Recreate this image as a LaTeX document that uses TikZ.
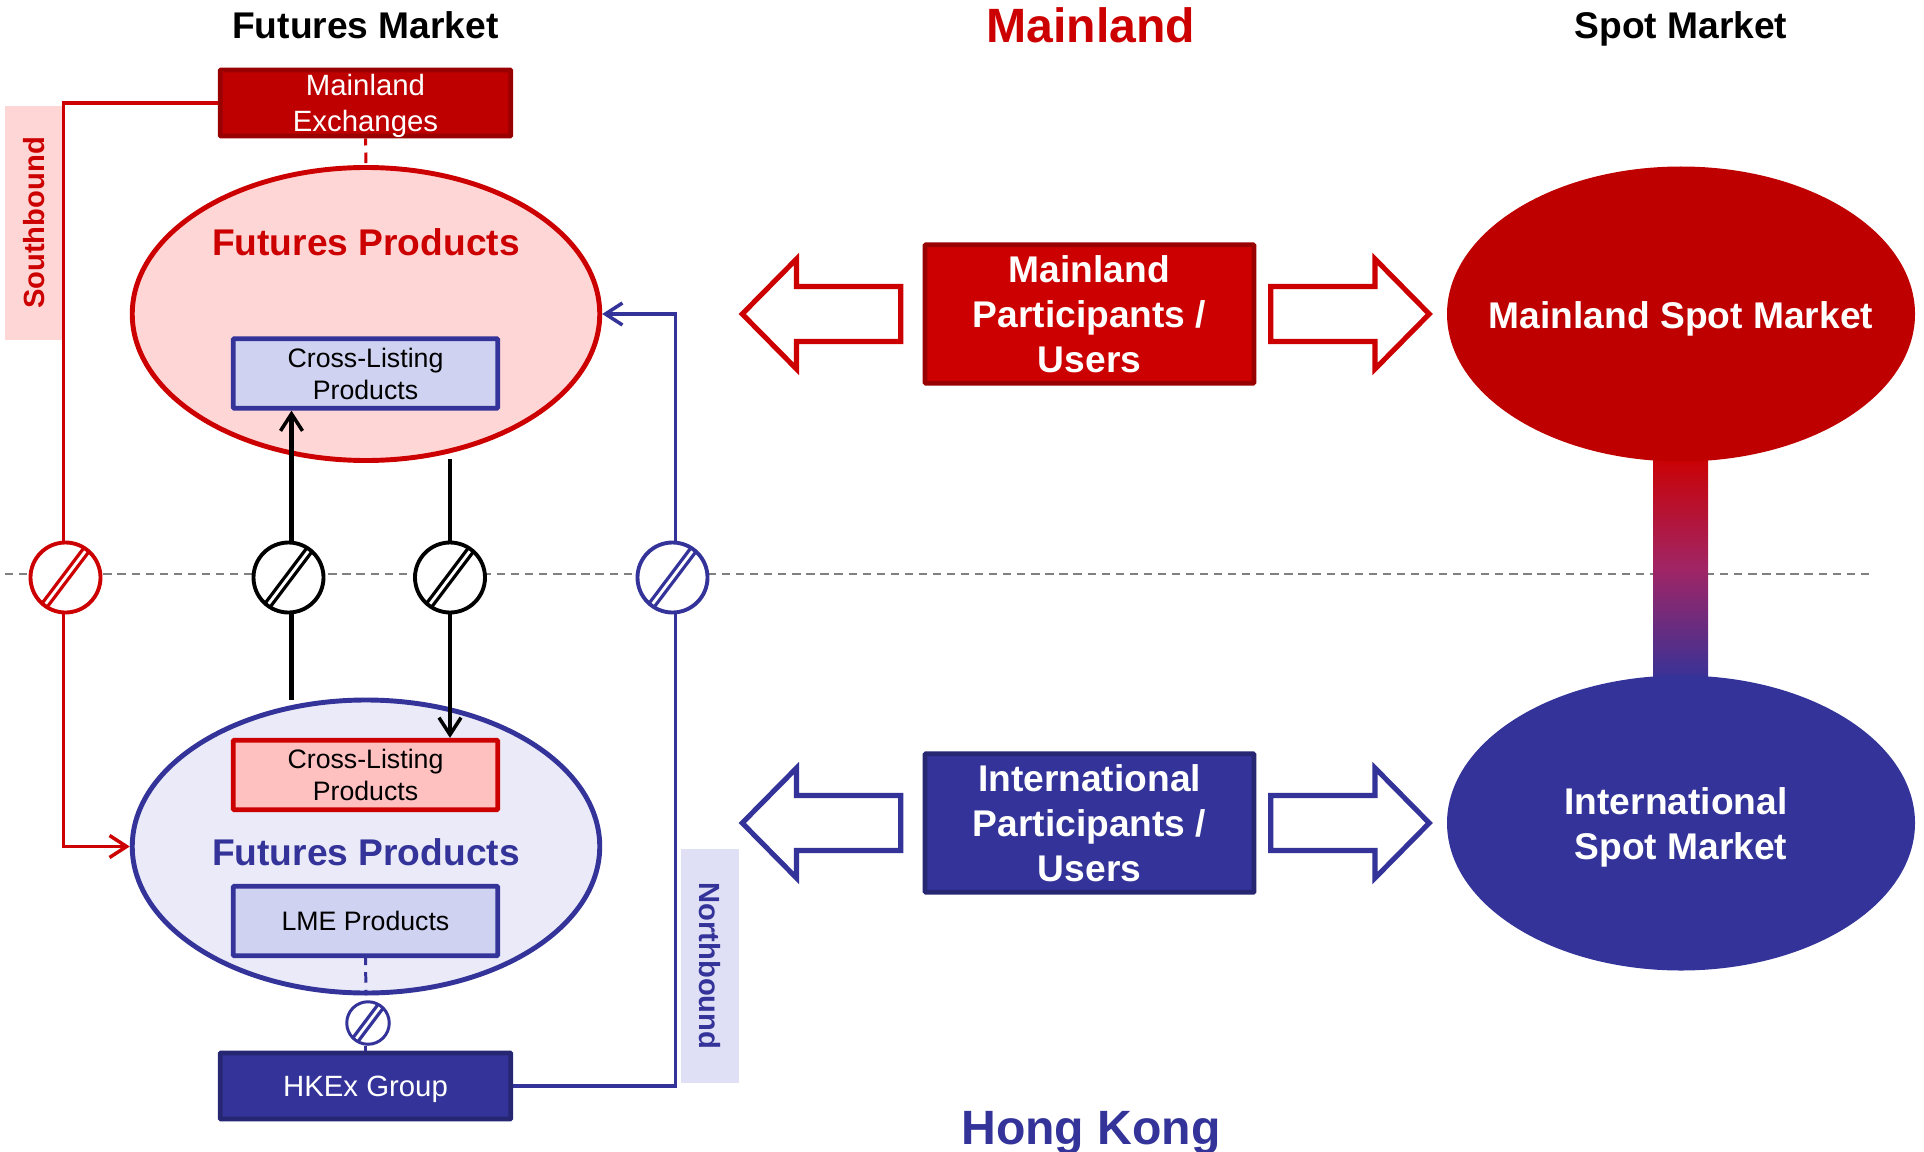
\documentclass[tikz,border=0pt]{standalone}
\usepackage{fontspec}
\setmainfont{Liberation Sans}
\usetikzlibrary{arrows.meta,shapes.geometric}
\definecolor{mainRed}{HTML}{CC0000}
\definecolor{darkRed}{HTML}{BE0000}
\definecolor{edgeRed}{HTML}{990000}
\definecolor{hkBlue}{HTML}{333399}
\definecolor{edgeBlue}{HTML}{262673}
\definecolor{pinkFill}{HTML}{FFD6D6}
\definecolor{pinkBox}{HTML}{FFC0C0}
\definecolor{lilacFill}{HTML}{EAEAF8}
\definecolor{lilacBox}{HTML}{CFD2F0}
\definecolor{lilacBand}{HTML}{DFDFF5}
\definecolor{linkMid}{HTML}{A02565}
\def\bigfont{\fontsize{21.15}{25.7}\selectfont\bfseries}
\def\boxfont{\fontsize{15.2}{18.3}\selectfont}
\def\groupfont{\fontsize{16.7}{20.3}\selectfont}
\tikzset{
	market/.style={ellipse,minimum width=9.35cm,minimum height=5.86cm,inner sep=0pt,line width=2.8pt},
	crossbox/.style={rectangle,rounded corners=.5pt,minimum width=5.29cm,minimum height=1.39cm,inner sep=0pt,align=center,line width=2.7pt,text=black,font=\boxfont,text depth=-1.6pt},
	groupbox/.style={rectangle,rounded corners=.5pt,minimum width=5.81cm,minimum height=1.32cm,inner sep=0pt,align=center,line width=2.8pt,text=white,font=\groupfont,text depth=-1.6pt},
	partbox/.style={rectangle,rounded corners=.5pt,minimum width=6.58cm,minimum height=2.77cm,inner sep=0pt,align=center,line width=2.7pt,text=white,font=\bigfont,text depth=-1.6pt},
	band/.style={rectangle,minimum width=4.68cm,minimum height=1.16cm,inner sep=0pt,font=\fontsize{16.6}{20}\selectfont\bfseries},
	title/.style={inner sep=0pt,font=\bigfont},
	headline/.style={inner sep=0pt,font=\fontsize{27.4}{30}\selectfont\bfseries},
	nogo/.style={circle,draw=#1,fill=white,inner sep=0pt,minimum size=1.4cm,line width=2.2pt,
		path picture={\draw[#1,line width=1.9pt,double=white,double distance=1.6pt]
			([shift={(233:1cm)}]path picture bounding box.center) -- ([shift={(53:1cm)}]path picture bounding box.center);}},
	link/.style={line width=2pt,>={Straight Barb[length=3.4mm,width=4.4mm,line width=2pt]}},
	linkdash/.style={line width=1.7pt,dash pattern=on 6pt off 4pt,dash phase=2pt},
	hollow/.style={fill=white,line width=2.9pt,miter limit=10}
}
\begin{document}
\begin{tikzpicture}
	\useasboundingbox (0,0) rectangle (38.48,-23.04);
	% bands and the border line
	\node[band,fill=pinkFill,text=mainRed,rotate=90] (southBand) at (.68,-4.46) {Southbound};
	\node[band,fill=lilacBand,text=hkBlue,rotate=-90] (northBand) at (14.2,-19.32) {Northbound};
	\coordinate (borderA) at (.1,-11.48);
	\coordinate (borderB) at (37.42,-11.48);
	\draw[gray,line width=1.4pt,dash pattern=on 4.7pt off 3.3pt] (borderA) -- (borderB);
	% spot market
	\node[rectangle,inner sep=0pt,minimum width=1.1cm,minimum height=4.6cm,top color=mainRed,bottom color=hkBlue,middle color=linkMid] (spotLink) at (33.61,-11.37) {};
	\node[market,fill=darkRed,minimum width=9.36cm,minimum height=5.9cm] (spotMain) at (33.62,-6.28) {};
	\node[market,fill=hkBlue,minimum width=9.36cm,minimum height=5.9cm] (spotHK) at (33.62,-16.46) {};
	\node[title,text=white] (spotMainText) at (33.62,-6.37) {Mainland Spot Market};
	\node[title,text=white,align=center] (spotHKText) at (33.62,-16.54) {International\hspace*{5.7pt}\\Spot Market};
	% futures market
	\node[market,draw=mainRed,fill=pinkFill] (futMain) at (7.32,-6.28) {};
	\node[market,draw=hkBlue,fill=lilacFill] (futHK) at (7.32,-16.93) {};
	\node[title,text=mainRed] (prodMain) at (7.32,-4.84) {Futures Products};
	\node[title,text=hkBlue] (prodHK) at (7.32,-17.04) {Futures Products};
	\node[crossbox,draw=hkBlue,fill=lilacBox] (crossMain) at (7.31,-7.47) {Cross-Listing\\Products};
	\node[crossbox,draw=mainRed,fill=pinkBox] (crossHK) at (7.31,-15.5) {Cross-Listing\\Products};
	\node[crossbox,draw=hkBlue,fill=lilacBox] (lme) at (7.31,-18.42) {LME Products};
	\node[groupbox,draw=edgeRed,fill=darkRed] (exchMain) at (7.31,-2.06) {Mainland\\Exchanges};
	\node[groupbox,draw=edgeBlue,fill=hkBlue] (hkex) at (7.31,-21.72) {HKEx Group};
	% crossing points
	\node[nogo=mainRed] (slashSouth) at (1.31,-11.55) {};
	\node[nogo=black] (slashUp) at (5.77,-11.55) {};
	\node[nogo=black] (slashDown) at (9,-11.55) {};
	\node[nogo=hkBlue] (slashNorth) at (13.45,-11.55) {};
	\node[nogo=hkBlue,minimum size=.85cm,line width=1.7pt] (slashGroup) at (7.36,-20.46) {};
	\coordinate (upStart) at (5.83,-14);
	\coordinate (downStart) at (9,-9.18);
	% links
	\draw[link,mainRed] (exchMain.west) -| ([xshift=-.04cm]slashSouth.north);
	\draw[link,mainRed,->] ([xshift=-.04cm]slashSouth.south) |- (futHK.west);
	\draw[link,hkBlue] (hkex.east) -| ([xshift=.06cm]slashNorth.south);
	\draw[link,hkBlue,->] ([xshift=.06cm]slashNorth.north) |- (futMain.east);
	\draw[link,black,line width=2.3pt] (upStart) -- (upStart |- slashUp.south);
	\draw[link,black,line width=2.3pt,->] (upStart |- slashUp.north) -- (upStart |- crossMain.south);
	\draw[link,black,line width=2.3pt] (downStart) -- (slashDown.north);
	\draw[link,black,line width=2.3pt,->] (slashDown.south) -- (slashDown.south |- crossHK.north);
	\draw[mainRed,linkdash] (exchMain.south) -- (futMain.north);
	\draw[hkBlue,linkdash] (lme.south) -- (futHK.south);
	\draw[hkBlue,line width=1.7pt] (lme.south |- slashGroup.south) -- (hkex.north);
	% participants
	\node[partbox,draw=edgeRed,fill=mainRed] (partMain) at (21.79,-6.28) {Mainland\\Participants /\\Users};
	\node[partbox,draw=edgeBlue,fill=hkBlue] (partHK) at (21.79,-16.46) {International\\Participants /\\Users};
	\foreach \cx/\cy/\dirn/\col in {16.43/-6.28/-1/mainRed,27/-6.28/1/mainRed,16.43/-16.46/-1/hkBlue,27/-16.46/1/hkBlue}
		\draw[hollow,draw=\col,shift={(\cx,\cy)},xscale=\dirn] (-1.585,-.55) -- (.5,-.55) -- (.5,-1.1) -- (1.585,0) -- (.5,1.1) -- (.5,.55) -- (-1.585,.55) -- cycle;
	% titles
	\node[title,text=black,anchor=base] (headFutures) at (7.31,-.78) {Futures Market};
	\node[title,text=black,anchor=base] (headSpot) at (33.62,-.78) {Spot Market};
	\node[headline,text=mainRed] (headMain) at (21.82,-.5) {Mainland};
	\node[headline,text=hkBlue] (headHK) at (21.82,-22.66) {Hong Kong};
\end{tikzpicture}
\end{document}
